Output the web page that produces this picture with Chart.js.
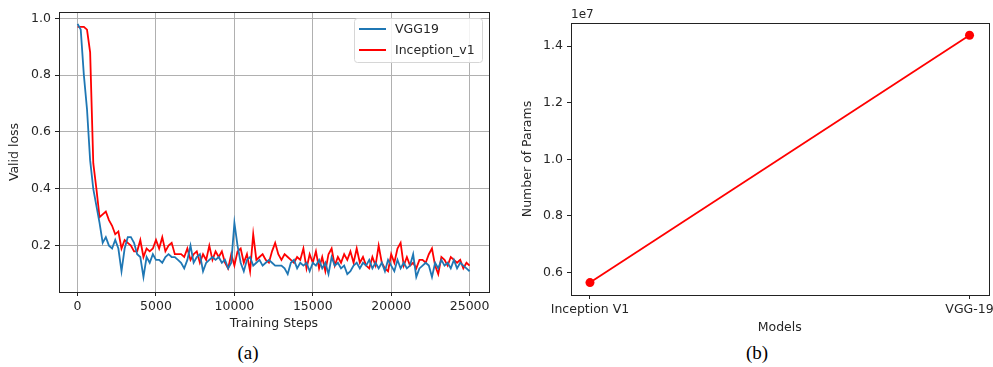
<!DOCTYPE html>
<html><head><meta charset="utf-8">
<script src="https://cdn.jsdelivr.net/npm/chart.js@4/dist/chart.umd.min.js"></script>
<style>
html,body{margin:0;padding:0;background:#fff;width:993px;height:367px;overflow:hidden;position:relative}
canvas{position:absolute}
#c1{left:0;top:0}
#c2{left:500px;top:0}
.cap{position:absolute;font-family:'Liberation Serif','Times New Roman',serif;font-size:19px;line-height:20px;color:#000;transform:translateX(-50%)}
</style></head><body>
<canvas id="c1" width="496" height="332"></canvas>
<canvas id="c2" width="493" height="335"></canvas>
<div class="cap" style="left:248px;top:343px">(a)</div>
<div class="cap" style="left:757px;top:343px">(b)</div>
<script>
// ---------- data ----------
const STEP = 200;
const vgg19Loss = [
  0.98,0.96,0.80,0.68,0.50,0.40,0.34,0.28,0.21,0.23,
  0.20,0.19,0.22,0.19,0.11,0.19,0.23,0.23,0.21,0.17,
  0.16,0.09,0.16,0.14,0.17,0.15,0.15,0.14,0.16,0.17,
  0.16,0.16,0.15,0.14,0.12,0.15,0.20,0.14,0.16,0.17,
  0.11,0.14,0.15,0.16,0.15,0.16,0.14,0.15,0.12,0.14,
  0.28,0.20,0.14,0.11,0.15,0.16,0.13,0.14,0.15,0.13,
  0.14,0.15,0.14,0.13,0.13,0.13,0.12,0.10,0.14,0.15,
  0.12,0.14,0.13,0.14,0.11,0.14,0.13,0.15,0.12,0.14,
  0.10,0.16,0.13,0.14,0.12,0.13,0.10,0.11,0.13,0.14,
  0.12,0.14,0.13,0.15,0.12,0.14,0.12,0.14,0.11,0.15,
  0.13,0.11,0.15,0.12,0.14,0.12,0.13,0.17,0.09,0.12,
  0.13,0.14,0.13,0.09,0.14,0.12,0.15,0.13,0.14,0.12,
  0.15,0.12,0.14,0.13,0.12,0.11
];
const inceptionLoss = [
  0.97,0.97,0.97,0.96,0.88,0.49,0.40,0.30,0.31,0.32,
  0.29,0.27,0.24,0.25,0.19,0.22,0.21,0.20,0.18,0.18,
  0.22,0.16,0.19,0.18,0.19,0.22,0.19,0.23,0.18,0.20,
  0.21,0.17,0.17,0.17,0.16,0.19,0.15,0.17,0.18,0.14,
  0.17,0.15,0.20,0.15,0.18,0.16,0.18,0.14,0.12,0.17,
  0.13,0.18,0.19,0.14,0.17,0.11,0.24,0.15,0.16,0.17,
  0.15,0.14,0.18,0.21,0.17,0.15,0.17,0.16,0.15,0.14,
  0.16,0.15,0.19,0.12,0.17,0.14,0.18,0.12,0.16,0.11,
  0.17,0.19,0.13,0.16,0.14,0.17,0.15,0.18,0.14,0.19,
  0.14,0.16,0.13,0.12,0.16,0.13,0.20,0.14,0.12,0.11,
  0.17,0.14,0.19,0.21,0.13,0.16,0.13,0.14,0.12,0.15,
  0.15,0.14,0.17,0.19,0.13,0.10,0.16,0.15,0.13,0.16,
  0.15,0.14,0.15,0.12,0.14,0.13
];
const lossXTicks = [0,5000,10000,15000,20000,25000];
const lossYTicks = [0.2,0.4,0.6,0.8,1.0];

const models = ['Inception V1','VGG-19'];
const numParams = [5.64e6, 1.439e7];
const paramYTicks = [0.6e7,0.8e7,1.0e7,1.2e7,1.4e7];

// ---------- shared style ----------
Chart.defaults.font.family = "'DejaVu Sans', sans-serif";
Chart.defaults.font.size = 12.5;
Chart.defaults.color = '#262626';

const frame = {
  id:'frame',
  afterDraw(c){
    const a=c.chartArea, x=c.ctx;
    x.save(); x.strokeStyle='#222'; x.lineWidth=1;
    x.strokeRect(Math.round(a.left)+0.5, Math.round(a.top)+0.5, Math.round(a.right-a.left), Math.round(a.bottom-a.top));
    x.restore();
  }
};
const boxLegend = {
  id:'boxLegend',
  afterDraw(c){
    const a=c.chartArea, x=c.ctx;
    const w=128, h=44, L=a.right-7-w, T=a.top+6;
    x.save();
    x.fillStyle='rgba(255,255,255,0.85)'; x.strokeStyle='#d6d6d6'; x.lineWidth=1;
    x.beginPath(); x.roundRect(L+0.5,T+0.5,w,h,3); x.fill(); x.stroke();
    c.data.datasets.forEach((d,i)=>{
      const y=T+11+i*21;
      x.strokeStyle=d.borderColor; x.lineWidth=2;
      x.beginPath(); x.moveTo(L+5,y); x.lineTo(L+32,y); x.stroke();
      x.fillStyle='#262626'; x.font="12.5px 'DejaVu Sans'"; x.textBaseline='middle';
      x.fillText(d.label, L+41, y+1);
    });
    x.restore();
  }
};
const offsetText = {
  id:'offsetText',
  afterDraw(c){
    const a=c.chartArea, x=c.ctx;
    x.save(); x.fillStyle='#262626'; x.font="12px 'DejaVu Sans'"; x.textBaseline='bottom';
    x.fillText('1e7', a.left, a.top-2); x.restore();
  }
};

// ---------- chart (a) ----------
new Chart(document.getElementById('c1'), {
  type:'line',
  data:{datasets:[
    {label:'VGG19', data:vgg19Loss.map((v,i)=>({x:i*STEP,y:v})), borderColor:'#1f77b4', borderWidth:1.8, pointRadius:0, tension:0, fill:false},
    {label:'Inception_v1', data:inceptionLoss.map((v,i)=>({x:i*STEP,y:v})), borderColor:'#ff0000', borderWidth:1.8, pointRadius:0, tension:0, fill:false}
  ]},
  options:{
    responsive:false, animation:false, devicePixelRatio:1,
    layout:{padding:{left:0,right:7,top:12,bottom:0}},
    plugins:{legend:{display:false}, tooltip:{enabled:false}},
    scales:{
      x:{type:'linear', min:-1186, max:26237,
         afterBuildTicks:s=>{s.ticks=lossXTicks.map(v=>({value:v}));},
         ticks:{callback:v=>String(v), maxRotation:0, autoSkip:false, padding:3},
         grid:{color:'#b0b0b0', lineWidth:1, tickLength:4, tickColor:'#222'},
         border:{display:true,color:'#222'},
         title:{display:true, text:'Training Steps', padding:{top:0,bottom:1}},
         afterFit:s=>{s.height=40; s.paddingLeft=0; s.paddingRight=0;}},
      y:{type:'linear', min:0.037, max:1.022,
         afterBuildTicks:s=>{s.ticks=lossYTicks.map(v=>({value:v}));},
         ticks:{callback:v=>v.toFixed(1), autoSkip:false, padding:4},
         grid:{color:'#b0b0b0', lineWidth:1, tickLength:4, tickColor:'#222'},
         border:{display:true,color:'#222'},
         title:{display:true, text:'Valid loss', padding:{top:7,bottom:0}},
         afterFit:s=>{s.width=59; s.paddingTop=0; s.paddingBottom=0;}}
    }
  },
  plugins:[frame, boxLegend]
});

// ---------- chart (b) ----------
new Chart(document.getElementById('c2'), {
  type:'line',
  data:{datasets:[
    {label:'Params', data:numParams.map((v,i)=>({x:i,y:v})), borderColor:'#ff0000', backgroundColor:'#ff0000', borderWidth:1.8, pointRadius:4.5, pointBorderWidth:0, tension:0, fill:false}
  ]},
  options:{
    responsive:false, animation:false, devicePixelRatio:1,
    layout:{padding:{left:0,right:4,top:23,bottom:0}},
    plugins:{legend:{display:false}, tooltip:{enabled:false}},
    scales:{
      x:{type:'linear', min:-0.05, max:1.05,
         afterBuildTicks:s=>{s.ticks=models.map((m,i)=>({value:i}));},
         ticks:{callback:v=>models[v], maxRotation:0, autoSkip:false, padding:3},
         grid:{drawOnChartArea:false, tickLength:4, tickColor:'#222'},
         border:{display:true,color:'#222'},
         title:{display:true, text:'Models', padding:{top:0,bottom:0}},
         afterFit:s=>{s.height=40; s.paddingLeft=0; s.paddingRight=0;}},
      y:{type:'linear', min:0.520e7, max:1.4822e7,
         afterBuildTicks:s=>{s.ticks=paramYTicks.map(v=>({value:v}));},
         ticks:{callback:v=>(v/1e7).toFixed(1), autoSkip:false, padding:4},
         grid:{drawOnChartArea:false, tickLength:4, tickColor:'#222'},
         border:{display:true,color:'#222'},
         title:{display:true, text:'Number of Params', padding:{top:20,bottom:0}},
         afterFit:s=>{s.width=71; s.paddingTop=0; s.paddingBottom=0;}}
    }
  },
  plugins:[frame, offsetText]
});
</script></body></html>
